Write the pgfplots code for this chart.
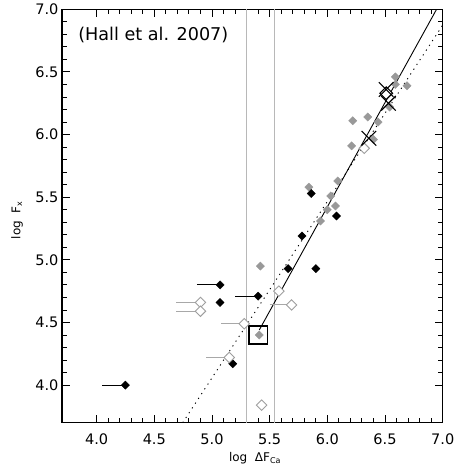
\documentclass[border=0pt]{standalone}
\usepackage{pgfplots}
\pgfplotsset{compat=1.18}
\usepackage{fontspec}
\setmainfont{DejaVu Sans}
\definecolor{gfill}{gray}{0.6}
\definecolor{vline}{gray}{0.72}
\definecolor{gopen}{gray}{0.62}
\definecolor{gbar}{gray}{0.66}
\begin{document}
\begin{tikzpicture}
\begin{axis}[
  at={(0,0)}, anchor=south west,
  scale only axis, width=380.7pt, height=413.4pt,
  xmin=3.7, xmax=7.0, ymin=3.7, ymax=7.0,
  xtick={4.0,4.5,5.0,5.5,6.0,6.5,7.0},
  ytick={4.0,4.5,5.0,5.5,6.0,6.5,7.0},
  minor x tick num=4, minor y tick num=4,
  tick align=inside,
  major tick length=8pt, minor tick length=4.5pt,
  axis line style={line width=1.2pt},
  every tick/.style={black, line width=0.9pt},
  tick label style={font=\fontsize{14.5}{17}\selectfont,
    /pgf/number format/fixed, /pgf/number format/fixed zerofill,
    /pgf/number format/precision=1, /pgf/number format/assume math mode=true},
  xticklabel style={yshift=-8pt},
  xlabel={log\ \ ΔF\textsubscript{Ca}},
  ylabel={log\ \ F\textsubscript{x}},
  label style={font=\fontsize{12}{14}\selectfont},
  xlabel style={at={(axis description cs:0.507,-0.0854)}, anchor=center},
  ylabel style={at={(axis description cs:-0.118,0.49)}, anchor=center},
]
% vertical gray lines
\addplot[vline, line width=0.9pt] coordinates {(5.30,3.7) (5.30,7.0)};
\addplot[vline, line width=0.9pt] coordinates {(5.54,3.7) (5.54,7.0)};
% fits
\addplot[black, line width=0.9pt, dash pattern=on 1.2pt off 4.5pt] coordinates {(4.746,3.7) (7.0,6.874)};
\addplot[black, line width=0.9pt] coordinates {(5.41,4.44) (6.947,7.0)};
% error bars
\addplot[black, line width=0.9pt, unbounded coords=jump] coordinates {
 (4.05,4.00) (4.25,4.00) (nan,nan)
 (4.87,4.80) (5.07,4.80) (nan,nan)
 (5.20,4.71) (5.40,4.71)};
\addplot[gbar, line width=0.9pt, unbounded coords=jump] coordinates {
 (4.69,4.66) (4.90,4.66) (nan,nan)
 (4.69,4.59) (4.90,4.59) (nan,nan)
 (5.08,4.49) (5.28,4.49) (nan,nan)
 (4.95,4.22) (5.15,4.22) (nan,nan)
 (5.50,4.64) (5.69,4.64)};
% square
\addplot[only marks, mark=square, mark size=9.1pt, mark options={black, line width=1.3pt}] coordinates {(5.40,4.40)};
% gray filled diamonds
\addplot[only marks, mark=square*, mark size=2.9pt, mark options={rotate=45, fill=gfill, draw=gfill}] coordinates {
 (5.42,4.95) (5.41,4.40) (5.84,5.58) (6.09,5.63) (6.03,5.51) (6.07,5.43)
 (6.00,5.40) (5.94,5.31) (6.59,6.46) (6.59,6.40) (6.69,6.39) (6.54,6.22)
 (6.22,6.11) (6.35,6.14) (6.44,6.10) (6.40,5.96) (6.21,5.91)};
% black filled diamonds
\addplot[only marks, mark=square*, mark size=2.9pt, mark options={rotate=45, fill=black, draw=black}] coordinates {
 (4.25,4.00) (5.07,4.80) (5.07,4.66) (5.40,4.71) (5.18,4.17) (5.66,4.93)
 (5.90,4.93) (5.86,5.53) (5.78,5.19) (6.08,5.35)};
% open gray diamonds
\addplot[only marks, mark=square*, mark size=3.7pt, mark options={rotate=45, fill=white, draw=gopen, line width=0.9pt}] coordinates {
 (4.90,4.66) (4.90,4.59) (5.28,4.49) (5.15,4.22) (5.58,4.75) (5.69,4.64)
 (5.43,3.84) (6.32,5.89)};
% open black big diamond
\addplot[only marks, mark=square*, mark size=4.5pt, mark options={rotate=45, fill=white, draw=black, line width=1.1pt}] coordinates {(6.51,6.33)};
% X marks
\addplot[only marks, mark=x, mark size=10.3pt, mark options={black, line width=1.1pt}] coordinates {
 (6.36,5.97) (6.51,6.36) (6.53,6.25)};
\node[anchor=west, inner sep=0pt, font=\fontsize{17.6}{20}\selectfont] at (axis cs:3.84,6.795) {(Hall et al. 2007)};
\end{axis}
\pgfresetboundingbox
\path (-62pt,-46.3pt) rectangle (395pt,422.7pt);
\end{tikzpicture}
\end{document}
